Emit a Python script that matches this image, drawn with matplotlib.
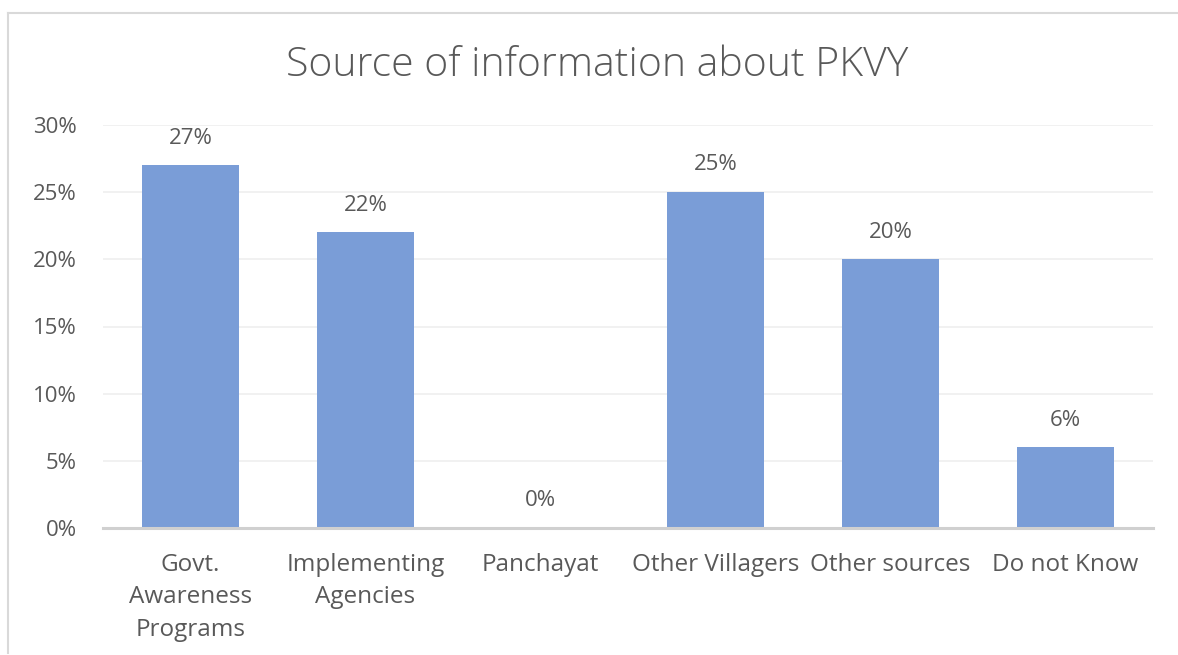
import matplotlib
matplotlib.use("Agg")
import matplotlib.pyplot as plt
from matplotlib.lines import Line2D
from matplotlib.ticker import FuncFormatter

categories = ["Govt.\nAwareness\nPrograms", "Implementing\nAgencies", "Panchayat",
              "Other Villagers", "Other sources", "Do not Know"]
values = [0.27, 0.22, 0.00, 0.25, 0.20, 0.06]
yticks = [0, 0.05, 0.10, 0.15, 0.20, 0.25, 0.30]
title = "Source of information about PKVY"

plt.rcParams['font.family'] = ['Open Sans', 'DejaVu Sans']
W, H = 1178, 655
fig = plt.figure(figsize=(W / 100, H / 100), dpi=100)
ax = fig.add_axes([103 / W, 1 - 528 / H, (1153 - 103) / W, (528 - 125) / H])

text_color = "#595959"
bar_color = "#7A9DD7"

x = list(range(len(categories)))
ax.bar(x, values, width=0.55, color=bar_color, zorder=3)
ax.set_xlim(-0.5, len(categories) - 0.5)
ax.set_ylim(0, 0.30)
ax.set_yticks(yticks)
ax.yaxis.set_major_formatter(FuncFormatter(lambda v, p: f"{v*100:.0f}%"))
ax.set_xticks(x)
ax.set_xticklabels(categories, fontsize=17.5, color=text_color, linespacing=1.47, va="top")
ax.tick_params(axis='y', labelsize=16, labelcolor=text_color, length=0, pad=19)
ax.tick_params(axis='x', length=0, pad=18)
ax.grid(axis='y', color="#EFEFEF", lw=1.2, zorder=0)
for s in ["top", "right", "left"]:
    ax.spines[s].set_visible(False)
ax.spines["bottom"].set_color("#D0D0D0")
ax.spines["bottom"].set_linewidth(2.2)
ax.spines["bottom"].set_zorder(4)

for xi, v in zip(x, values):
    ax.annotate(f"{v*100:.0f}%", (xi, v), xytext=(0, 12), textcoords="offset points",
                ha="center", va="bottom", fontsize=16, color=text_color)

fig.text(597 / W, 1 - 65 / H, title, ha="center", va="center", fontsize=29.5,
         color=text_color, fontweight="light")

# chart frame (top and left edges visible)
fig.add_artist(Line2D([8 / W, 1.0], [1 - 13 / H, 1 - 13 / H], transform=fig.transFigure,
                      color="#D9D9D9", lw=1.5))
fig.add_artist(Line2D([8 / W, 8 / W], [1 - 13 / H, 1 - 653 / H], transform=fig.transFigure,
                      color="#D9D9D9", lw=1.5))

fig.savefig("out.png", dpi=100, facecolor="white")
